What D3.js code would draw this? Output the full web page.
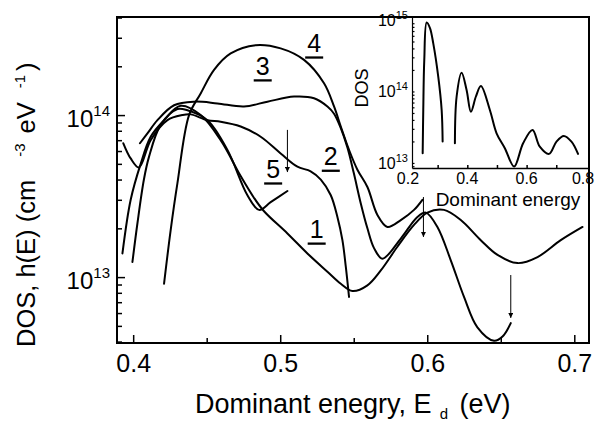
<!DOCTYPE html>
<meta charset="utf-8">
<style>
body { margin: 0; background: #fff; }
svg { font-family: "Liberation Sans", Arial, sans-serif; }
.curve { fill: none; stroke: #000; stroke-width: 2; stroke-linejoin: round; stroke-linecap: round; }
</style>
<body>
<script src="https://d3js.org/d3.v7.min.js"></script>
<script>

// ---- main chart data: dominant energy (eV) and DOS (cm^-3 eV^-1)
var energy1 = [0.3927, 0.3983, 0.4051, 0.4119, 0.4210, 0.4323, 0.4459, 0.4595, 0.4731, 0.4820, 0.4890, 0.5049, 0.5185, 0.5321, 0.5412, 0.5491, 0.5593, 0.5684, 0.5797, 0.5910, 0.6001, 0.6114, 0.6228, 0.6364, 0.6478, 0.6614, 0.6750, 0.6908, 0.7056];
var dos1    = [1.40e13, 3.0e13, 5.0e13, 7.35e13, 9.3e13, 1.14e14, 1.0e14, 7.0e13, 4.2e13, 3.1e13, 2.55e13, 1.86e13, 1.40e13, 1.08e13, 9.1e12, 8.2e12, 8.9e12, 1.10e13, 1.54e13, 2.1e13, 2.5e13, 2.6e13, 2.25e13, 1.69e13, 1.37e13, 1.22e13, 1.33e13, 1.69e13, 2.04e13];

var energy2 = [0.3933, 0.3983, 0.4039, 0.4119, 0.4233, 0.4335, 0.4391, 0.4505, 0.4595, 0.4731, 0.4867, 0.5003, 0.5117, 0.5207, 0.5276, 0.5344, 0.5389, 0.5423, 0.5446, 0.5468];
var dos2    = [6.7e13, 5.4e13, 4.75e13, 7.0e13, 9.3e13, 1.0e14, 1.01e14, 9.3e13, 9.1e13, 8.5e13, 7.35e13, 5.8e13, 4.8e13, 4.5e13, 4.0e13, 3.2e13, 2.35e13, 1.69e13, 1.16e13, 7.55e12];

var energy3 = [0.4046, 0.4097, 0.4165, 0.4278, 0.4414, 0.4573, 0.4754, 0.4913, 0.5094, 0.5230, 0.5321, 0.5366, 0.5412, 0.5457, 0.5500, 0.5548, 0.5593, 0.5638, 0.5695, 0.5820, 0.5933, 0.5990, 0.6069, 0.6160, 0.6250, 0.6341, 0.6454, 0.6512, 0.6568];
var dos3    = [6.7e13, 7.7e13, 9.3e13, 1.15e14, 1.21e14, 1.18e14, 1.13e14, 1.21e14, 1.30e14, 1.27e14, 1.13e14, 1.02e14, 8.3e13, 6.3e13, 4.4e13, 2.85e13, 2.0e13, 1.51e13, 1.30e13, 1.73e13, 2.35e13, 2.5e13, 2.04e13, 1.27e13, 7.55e12, 4.9e12, 4.05e12, 4.3e12, 5.2e12];

var energy4 = [0.4210, 0.4255, 0.4301, 0.4380, 0.4459, 0.4550, 0.4663, 0.4833, 0.5003, 0.5162, 0.5298, 0.5366, 0.5412, 0.5468, 0.5525, 0.5593, 0.5661, 0.5729, 0.5820, 0.5910, 0.5967];
var dos4    = [9.1e12, 1.95e13, 3.8e13, 1.0e14, 1.36e14, 1.9e14, 2.4e14, 2.7e14, 2.58e14, 2.19e14, 1.57e14, 1.13e14, 8.5e13, 6.1e13, 4.6e13, 3.6e13, 2.42e13, 2.04e13, 2.25e13, 2.6e13, 3.0e13];

var energy5 = [0.3995, 0.4029, 0.4073, 0.4107, 0.4187, 0.4301, 0.4369, 0.4505, 0.4641, 0.4777, 0.4856, 0.4935, 0.5049];
var dos5    = [1.24e13, 2.15e13, 4.0e13, 5.5e13, 8.7e13, 1.09e14, 1.07e14, 9.3e13, 6.1e13, 3.2e13, 2.6e13, 2.9e13, 3.4e13];

// curve numbers, placed at (energy, dos)
var labelText = ["1", "2", "3", "4", "5"];
var labelE    = [0.5248, 0.5344, 0.4881, 0.5231, 0.4952];
var labelDOS  = [1.74e13, 4.9e13, 1.77e14, 2.45e14, 4.09e13];

// arrows: energy, start and tip
var arrowE   = [0.5049, 0.5974, 0.6568];
var arrowTop = [8.1e13, 3.12e13, 1.03e13];
var arrowTip = [4.45e13, 1.77e13, 5.6e12];

var xMajor = [0.4, 0.5, 0.6, 0.7];
var xMinor = [0.45, 0.55, 0.65];
var yMajor = [1e13, 1e14];

// ---- inset data
var insetE1   = [0.2495, 0.2515, 0.2549, 0.2630, 0.2741, 0.2852, 0.3020, 0.3135, 0.3168];
var insetDOS1 = [1.37e13, 5.5e13, 2.75e14, 9.2e14, 7.7e14, 4.7e14, 1.61e14, 5.5e13, 1.99e13];
var insetE2   = [0.3582, 0.3640, 0.3808, 0.3976, 0.4121, 0.4290, 0.4458, 0.4761, 0.4987, 0.5266, 0.5579, 0.5882, 0.6199, 0.6444, 0.6758, 0.7007, 0.7253, 0.7512, 0.7734];
var insetDOS2 = [1.89e13, 8.5e13, 1.83e14, 1.05e14, 5.2e13, 8.5e13, 1.19e14, 5.5e13, 2.6e13, 1.61e13, 8.9e12, 1.89e13, 2.9e13, 1.69e13, 1.34e13, 1.99e13, 2.39e13, 1.99e13, 1.34e13];
var insetXLabels = [0.2, 0.4, 0.6, 0.8];
var insetXTicks  = [0.3, 0.4, 0.5, 0.6, 0.7];
var insetYMajor  = [1e13, 1e14, 1e15];

// ---- layout
var W = 595, H = 422;
var margin = {top: 17, right: 6, bottom: 79, left: 117},
    width = W - margin.left - margin.right,
    height = H - margin.top - margin.bottom;

var svg = d3.select("body").append("svg")
    .attr("width", W)
    .attr("height", H);

var defs = svg.append("defs");
defs.append("marker")
    .attr("id", "arrowhead")
    .attr("viewBox", "0 0 10 10")
    .attr("refX", 10).attr("refY", 5)
    .attr("markerUnits", "userSpaceOnUse")
    .attr("markerWidth", 7).attr("markerHeight", 5)
    .attr("orient", "auto")
  .append("path")
    .attr("d", "M0,0L10,5L0,10z")
    .attr("fill", "#000");

var g = svg.append("g")
    .attr("transform", "translate(" + margin.left + "," + margin.top + ")");

var x = d3.scaleLinear().domain([0.389, 0.710]).range([0, width]);
var y = d3.scaleLog().domain([3.92e12, 4.03e14]).range([height, 0]);

// minor log ticks 2..9
function logMinor(dom) {
  var out = [];
  for (var e = 11; e <= 15; e++)
    for (var k = 2; k <= 9; k++) {
      var v = k * Math.pow(10, e);
      if (v > dom[0] && v < dom[1]) out.push(v);
    }
  return out;
}

function styleAxis(sel) {
  sel.select(".domain").remove();
  sel.selectAll("line").attr("stroke", "#000").attr("stroke-width", 1.5);
}

// x axis
g.append("g")
    .attr("transform", "translate(0," + height + ")")
    .call(d3.axisBottom(x).tickValues(xMajor).tickSize(-8).tickPadding(11).tickFormat(d3.format(".1f")))
    .call(styleAxis)
    .call(function(a) {
      a.attr("font-family", null).attr("font-size", null);
      a.selectAll("text").attr("font-size", 25).attr("fill", "#000");
    });
g.append("g")
    .attr("transform", "translate(0," + height + ")")
    .call(d3.axisBottom(x).tickValues(xMinor).tickSize(-5).tickFormat(""))
    .call(styleAxis);

// y axis
g.append("g")
    .call(d3.axisLeft(y).tickValues(yMajor).tickSize(-8).tickFormat(""))
    .call(styleAxis);
g.append("g")
    .call(d3.axisLeft(y).tickValues(logMinor(y.domain())).tickSize(-5).tickFormat(""))
    .call(styleAxis);

var yLab = g.selectAll(".ylab").data(yMajor).enter().append("text")
    .attr("class", "ylab")
    .attr("x", -7)
    .attr("y", function(d) { return y(d) + 12; })
    .attr("text-anchor", "end")
    .attr("font-size", 24);
yLab.append("tspan").text("10");
yLab.append("tspan").attr("font-size", 15).attr("dy", -11)
    .text(function(d) { return Math.round(Math.log10(d)); });

// frame
g.append("rect")
    .attr("width", width).attr("height", height)
    .attr("fill", "none").attr("stroke", "#000").attr("stroke-width", 2);

// curves
var line = d3.line()
    .x(function(d) { return x(d[0]); })
    .y(function(d) { return y(d[1]); })
    .curve(d3.curveCatmullRom.alpha(0.5));

var curves = [[energy1, dos1], [energy2, dos2], [energy3, dos3], [energy4, dos4], [energy5, dos5]];
g.selectAll(".curve").data(curves).enter().append("path")
    .attr("class", "curve")
    .attr("d", function(c) { return line(d3.zip(c[0], c[1])); });

// arrows
g.selectAll(".arrow").data(arrowE).enter().append("line")
    .attr("class", "arrow")
    .attr("x1", function(d) { return x(d); })
    .attr("x2", function(d) { return x(d); })
    .attr("y1", function(d, i) { return y(arrowTop[i]); })
    .attr("y2", function(d, i) { return y(arrowTip[i]); })
    .attr("stroke", "#000").attr("stroke-width", 1)
    .attr("marker-end", "url(#arrowhead)");

// curve numbers, underlined
var lab = g.selectAll(".clab").data(labelText).enter().append("g").attr("class", "clab")
    .attr("transform", function(d, i) { return "translate(" + x(labelE[i]) + "," + y(labelDOS[i]) + ")"; });
lab.append("text").attr("text-anchor", "middle").attr("font-size", 25).text(function(d) { return d; });
lab.append("line").attr("x1", -9).attr("x2", 9).attr("y1", 5.5).attr("y2", 5.5)
    .attr("stroke", "#000").attr("stroke-width", 2.3);

// axis titles
var xt = svg.append("text")
    .attr("x", 195).attr("y", 413)
    .attr("font-size", 27);
xt.append("tspan").text("Dominant enegry, E");
xt.append("tspan").attr("font-size", 15).attr("dx", 8).attr("dy", 6).text("d");
xt.append("tspan").attr("dx", 4).attr("dy", -6).text(" (eV)");

var yt = svg.append("text")
    .attr("transform", "translate(35,347) rotate(-90)")
    .attr("font-size", 25.5);
yt.append("tspan").text("DOS, h(E) (cm");
yt.append("tspan").attr("font-size", 15).attr("dx", 23).attr("dy", -10).text("-3");
yt.append("tspan").attr("font-size", 25.5).attr("dx", 10).attr("dy", 10).text("eV");
yt.append("tspan").attr("font-size", 15).attr("dx", 14).attr("dy", -10).text("-1");
yt.append("tspan").attr("font-size", 25.5).attr("dx", 4).attr("dy", 10).text(")");

// ---- inset
var ix = d3.scaleLinear().domain([0.2135, 0.807]).range([412, 588]);
var iy = d3.scaleLog().domain([8.5e12, 1.1e15]).range([168, 17]);
var inset = svg.append("g");

inset.append("g")
    .attr("transform", "translate(0,168)")
    .call(d3.axisBottom(ix).tickValues(insetXTicks).tickSizeInner(-3).tickSizeOuter(0).tickFormat(""))
    .call(function(a) { a.selectAll("line, path").attr("stroke", "#000").attr("stroke-width", 1.5); });
inset.append("g")
    .attr("transform", "translate(412,0)")
    .call(d3.axisLeft(iy).tickValues(logMinor(iy.domain()).concat([1e13, 1e14])).tickSizeInner(-2.5).tickSizeOuter(0).tickFormat(""))
    .call(function(a) { a.selectAll("line, path").attr("stroke", "#000").attr("stroke-width", 1.2); });

// last label sits at the page edge, keep it inside
inset.selectAll(".ixlab").data(insetXLabels).enter().append("text")
    .attr("x", function(d) { return Math.min(ix(d), W - 12); }).attr("y", 184)
    .attr("text-anchor", "middle").attr("font-size", 16)
    .text(d3.format(".1f"));

var iyLab = inset.selectAll(".iylab").data(insetYMajor).enter().append("text")
    .attr("x", 408).attr("y", function(d) { return iy(d) + 6; })
    .attr("text-anchor", "end").attr("font-size", 16);
iyLab.append("tspan").text("10");
iyLab.append("tspan").attr("font-size", 11).attr("dy", -7)
    .text(function(d) { return Math.round(Math.log10(d)); });

var iline = d3.line()
    .x(function(d) { return ix(d[0]); })
    .y(function(d) { return iy(d[1]); })
    .curve(d3.curveCatmullRom.alpha(0.5));
inset.selectAll(".icurve").data([[insetE1, insetDOS1], [insetE2, insetDOS2]]).enter().append("path")
    .attr("class", "curve")
    .attr("d", function(c) { return iline(d3.zip(c[0], c[1])); });

inset.append("text")
    .attr("transform", "translate(368,88) rotate(-90)")
    .attr("text-anchor", "middle").attr("font-size", 18)
    .text("DOS");
inset.append("text")
    .attr("x", 508).attr("y", 206)
    .attr("text-anchor", "middle").attr("font-size", 19)
    .text("Dominant energy");

</script>
</body>
